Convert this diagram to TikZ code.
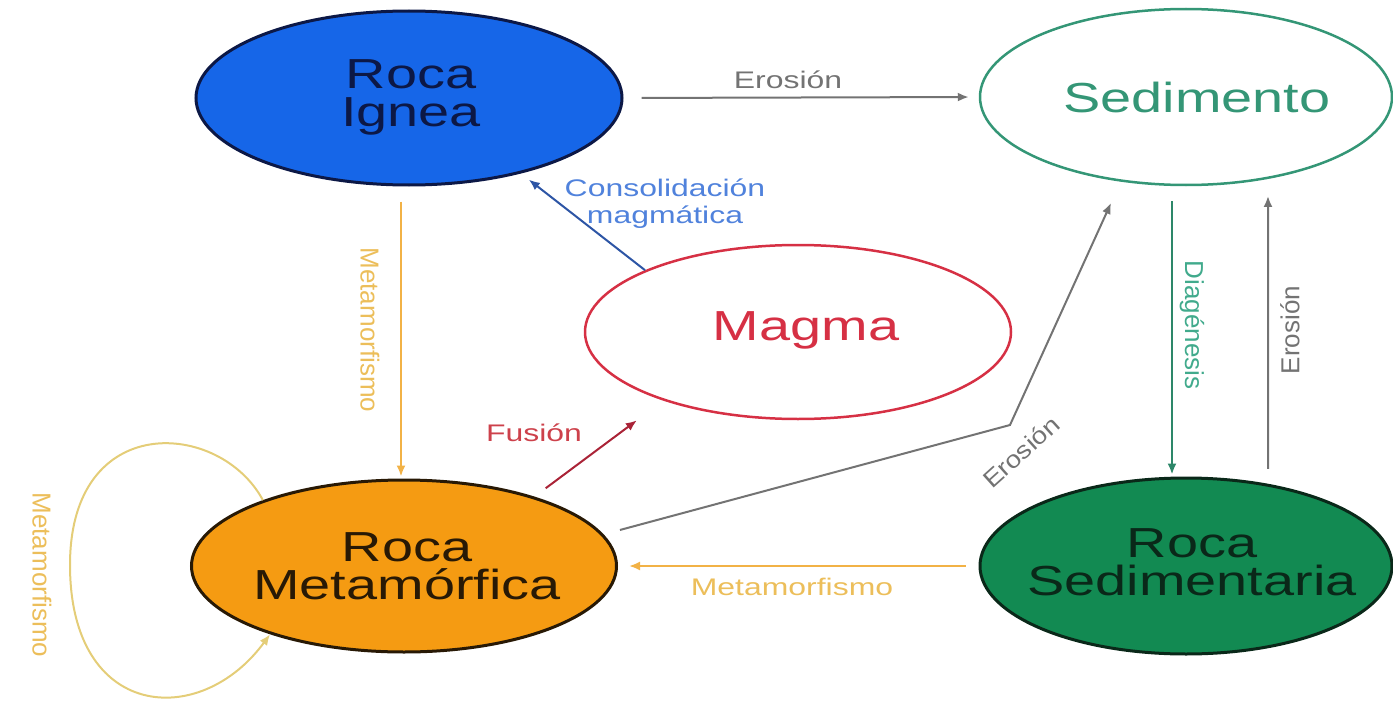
\documentclass[tikz,border=0pt]{standalone}
\usepackage{fontspec}
\setmainfont{Liberation Sans}
\newfontfamily\wide[FakeStretch=1.33]{Liberation Sans}
\newfontfamily\semiwide[FakeStretch=1.15]{Liberation Sans}
\usetikzlibrary{shapes.geometric,arrows.meta,calc}
\definecolor{igneafill}{RGB}{22,102,232}
\definecolor{igneatext}{RGB}{12,24,70}
\definecolor{sedgreen}{RGB}{52,150,118}
\definecolor{magmared}{RGB}{214,48,68}
\definecolor{metafill}{RGB}{245,155,18}
\definecolor{metatext}{RGB}{40,25,5}
\definecolor{sedrfill}{RGB}{18,138,82}
\definecolor{sedrtext}{RGB}{10,40,25}
\definecolor{grayline}{RGB}{115,115,115}
\definecolor{orangeline}{RGB}{242,178,70}
\definecolor{orangetext}{RGB}{236,190,90}
\definecolor{blueline}{RGB}{45,85,165}
\definecolor{bluetext}{RGB}{80,130,220}
\definecolor{fusionline}{RGB}{170,35,55}
\definecolor{fusiontext}{RGB}{205,65,75}
\definecolor{diagline}{RGB}{45,135,105}
\definecolor{diagtext}{RGB}{65,170,140}
\definecolor{loopline}{RGB}{228,205,120}
\tikzset{
  rock/.style={ellipse, minimum width=426pt, minimum height=174pt, inner sep=0pt},
  rocktext/.style={align=center, inner sep=0pt, font=\wide\fontsize{42}{38}\selectfont},
  lbl/.style={font=\wide\fontsize{24}{27}\selectfont, align=center, inner sep=0pt},
  vlbl/.style={font=\fontsize{26}{28}\selectfont, inner sep=0pt},
  conn/.style={line width=2pt, -{Latex[length=11pt,width=9pt]}},
}
\begin{document}
\begin{tikzpicture}[x=1pt,y=-1pt]
\useasboundingbox (0,0) rectangle (1393,709);
% rocks
\node[rock, fill=igneafill, draw=igneatext, line width=3pt] (ignea) at (409,98) {};
\node[rocktext, text=igneatext] (ignea-t) at (411,97) {Roca\\Ignea};
\node[rock, draw=sedgreen, line width=2.5pt, minimum width=412pt, minimum height=176pt] (sed) at (1186,97) {};
\node[rocktext, text=sedgreen] (sed-t) at (1197,97) {Sedimento};
\node[rock, draw=magmared, line width=2.5pt] (magma) at (798,332) {};
\node[rocktext, text=magmared] (magma-t) at (806,330) {Magma};
\node[rock, fill=metafill, draw=metatext, line width=3pt, minimum width=425pt, minimum height=172pt] (meta) at (404,566) {};
\node[rocktext, text=metatext] (meta-t) at (407,566) {Roca\\Metamórfica};
\node[rock, fill=sedrfill, draw=sedrtext, line width=3pt, minimum width=412pt, minimum height=176pt] (sedr) at (1186,566) {};
\node[rocktext, text=sedrtext] (sedr-t) at (1192,562) {Roca\\Sedimentaria};
% connectors
\draw[conn, grayline, shorten <=18pt, shorten >=10pt] (ignea.east) -- (sed.west);
\node[lbl, text=grayline] (er1) at (788,80) {Erosión};
\draw[conn, blueline, shorten <=0pt, shorten >=10pt] (magma.158) -- (ignea.-34);
\node[lbl, text=bluetext] (cons) at (665,204) {Consolidación\\magmática};
\draw[conn, orangeline, shorten <=15pt, shorten >=2pt] ([xshift=-8pt]ignea.south) -- ([xshift=-3pt]meta.north);
\node[vlbl, text=orangetext, rotate=-90] (met1) at (370,330) {Metamorfismo};
\draw[conn, fusionline, shorten <=14pt, shorten >=33pt] (meta.28) -- (magma.207);
\node[lbl, text=fusiontext] (fus) at (534,433) {Fusión};
\coordinate (bend) at (1010,425);
\draw[conn, grayline, shorten <=17pt, shorten >=12pt] (meta.9) -- (bend) -- ($(sed.center)+(-70,95)$);
\node[font=\semiwide\fontsize{24}{27}\selectfont, inner sep=0pt, text=grayline, rotate=42] (er2) at (1021,452) {Erosión};
\draw[conn, diagline, shorten <=15pt, shorten >=2pt] ([xshift=-14pt]sed.south) -- ([xshift=-14pt]sedr.north);
\node[vlbl, text=diagtext, rotate=-90] (diag) at (1192,325) {Diagénesis};
\draw[conn, grayline, shorten <=15pt, shorten >=17pt] (sedr.45) -- (sed.-45);
\node[vlbl, text=grayline, rotate=90] (er3) at (1290,330) {Erosión};
\draw[conn, orangeline, shorten <=13pt, shorten >=11pt] (sedr.west) -- (meta.east);
\node[lbl, text=orangetext] (met2) at (792,587) {Metamorfismo};
\draw[line width=2pt, loopline, -{Latex[length=11pt,width=9pt]}]
  (meta.155) .. controls (220,420) and (70,410) .. (70,565)
  .. controls (70,720) and (200,730) .. (meta.207);
\node[vlbl, text=orangetext, rotate=-90] (met3) at (42,575) {Metamorfismo};
\end{tikzpicture}
\end{document}
